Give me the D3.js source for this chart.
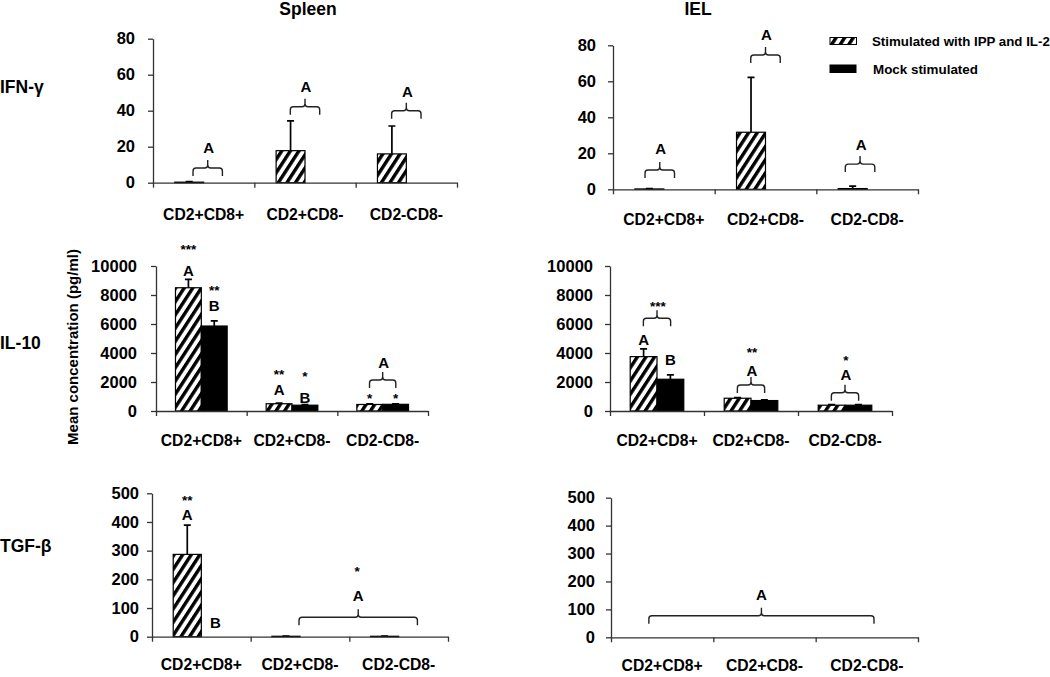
<!DOCTYPE html>
<html><head><meta charset="utf-8">
<script src="https://cdn.jsdelivr.net/npm/d3@7"></script>
<style>
body{margin:0;background:#fff}
svg{display:block}
text{font-family:"Liberation Sans",Arial,sans-serif;font-weight:bold;fill:#000}
</style>
</head><body>
<svg id="chart" width="1050" height="677"></svg>
<script>
// ---------- data ----------
const categories = ["CD2+CD8+", "CD2+CD8-", "CD2-CD8-"];
const seriesNames = ["Stimulated with IPP and IL-2", "Mock stimulated"];
const columnTitles = ["Spleen", "IEL"];
const rowLabels = ["IFN-γ", "IL-10", "TGF-β"];
const yTitle = "Mean concentration (pg/ml)";

const ticksIFN = [0, 20, 40, 60, 80];
const ticksIL10 = [0, 2000, 4000, 6000, 8000, 10000];
const ticksTGF = [0, 100, 200, 300, 400, 500];

// Spleen IFN-γ
const spleenIFNStim = [0.3, 17.8, 16.0];
const spleenIFNStimSD = [0.3, 16.6, 15.5];
const spleenIFNMock = [0, 0, 0];
const spleenIFNMockSD = [0, 0, 0];
// IEL IFN-γ
const ielIFNStim = [0.2, 31.7, 0.4];
const ielIFNStimSD = [0.2, 30.5, 1.4];
const ielIFNMock = [0, 0, 0];
const ielIFNMockSD = [0, 0, 0];
// Spleen IL-10
const spleenIL10Stim = [8500, 500, 450];
const spleenIL10StimSD = [580, 40, 40];
const spleenIL10Mock = [5860, 400, 460];
const spleenIL10MockSD = [350, 40, 40];
// IEL IL-10
const ielIL10Stim = [3750, 880, 400];
const ielIL10StimSD = [530, 50, 40];
const ielIL10Mock = [2190, 720, 400];
const ielIL10MockSD = [300, 50, 40];
// Spleen TGF-β
const spleenTGFStim = [287, 1.5, 1.5];
const spleenTGFStimSD = [102, 0.5, 0.5];
const spleenTGFMock = [0, 0, 0];
const spleenTGFMockSD = [0, 0, 0];
// IEL TGF-β
const ielTGFStim = [0, 0, 0];
const ielTGFStimSD = [0, 0, 0];
const ielTGFMock = [0, 0, 0];
const ielTGFMockSD = [0, 0, 0];

// annotations (levels in data units)
const spleenIFNBrackets = [{cat: 0, at: 8.2, shift: 0.04}, {cat: 1, at: 42.2}, {cat: 2, at: 40}];
const spleenIFNNotes = [
  {cat: 0, pos: "mid", at: 19.3, text: "A", shift: 0.04},
  {cat: 1, pos: "mid", at: 53.2, text: "A"},
  {cat: 2, pos: "mid", at: 50.4, text: "A"}];
const ielIFNBrackets = [{cat: 0, at: 10.7, shift: -0.04}, {cat: 1, at: 74.6}, {cat: 2, at: 14, shift: -0.07}];
const ielIFNNotes = [
  {cat: 0, pos: "mid", at: 22.4, text: "A", shift: -0.04},
  {cat: 1, pos: "mid", at: 85.7, text: "A"},
  {cat: 2, pos: "mid", at: 24.6, text: "A", shift: -0.07}];
const spleenIL10Brackets = [{cat: 2, at: 2138}];
const spleenIL10Notes = [
  {cat: 0, pos: "stim", at: 11400, text: "***"},
  {cat: 0, pos: "stim", at: 9650, text: "A"},
  {cat: 0, pos: "mock", at: 8600, text: "**"},
  {cat: 0, pos: "mock", at: 7250, text: "B"},
  {cat: 1, pos: "stim", at: 2750, text: "**"},
  {cat: 1, pos: "stim", at: 1500, text: "A"},
  {cat: 1, pos: "mock", at: 2680, text: "*"},
  {cat: 1, pos: "mock", at: 950, text: "B"},
  {cat: 2, pos: "stim", at: 1103, text: "*"},
  {cat: 2, pos: "mock", at: 1103, text: "*"},
  {cat: 2, pos: "mid", at: 3310, text: "A"}];
const ielIL10Brackets = [{cat: 0, at: 6393}, {cat: 1, at: 1793}, {cat: 2, at: 1262}];
const ielIL10Notes = [
  {cat: 0, pos: "stim", at: 4945, text: "A"},
  {cat: 0, pos: "mock", at: 3517, text: "B"},
  {cat: 0, pos: "mid", at: 7500, text: "***"},
  {cat: 1, pos: "mid", at: 2780, text: "A"},
  {cat: 1, pos: "mid", at: 4300, text: "**"},
  {cat: 2, pos: "mid", at: 2500, text: "A"},
  {cat: 2, pos: "mid", at: 3750, text: "*"}];
const spleenTGFBrackets = [{span: [1.49, 2.69], at: 67.6}];
const spleenTGFNotes = [
  {cat: 0, pos: "stim", at: 490, text: "**"},
  {cat: 0, pos: "stim", at: 426, text: "A"},
  {cat: 0, pos: "mock", at: 49, text: "B"},
  {u: 2.09, at: 145, text: "A"},
  {u: 2.08, at: 242, text: "*"}];
const ielTGFBrackets = [{span: [0.37, 2.57], at: 77}];
const ielTGFNotes = [{u: 1.47, at: 152, text: "A"}];

// ---------- layout ----------
const svg = d3.select("#chart");
const defs = svg.append("defs");
const pat = defs.append("pattern").attr("id", "hatch")
  .attr("patternUnits", "userSpaceOnUse").attr("width", 7.2).attr("height", 7.2)
  .attr("patternTransform", "rotate(33)");
pat.append("rect").attr("width", 7.2).attr("height", 7.2).attr("fill", "#fff");
pat.append("rect").attr("x", 0).attr("width", 3.4).attr("height", 7.2).attr("fill", "#000");

const axisColor = "#333";
const FONT = '"Liberation Sans",Arial,sans-serif';

const panels = [
  {stim: spleenIFNStim, stimSD: spleenIFNStimSD, mock: spleenIFNMock, mockSD: spleenIFNMockSD,
   ticks: ticksIFN, brackets: spleenIFNBrackets, notes: spleenIFNNotes,
   left: 153, right: 457, top: 38.7, bottom: 182.7, labelPad: 26.5, tickPad: 13},
  {stim: ielIFNStim, stimSD: ielIFNStimSD, mock: ielIFNMock, mockSD: ielIFNMockSD,
   ticks: ticksIFN, brackets: ielIFNBrackets, notes: ielIFNNotes,
   left: 613, right: 918, top: 45.3, bottom: 189.3, labelPad: 25, tickPad: 12},
  {stim: spleenIL10Stim, stimSD: spleenIL10StimSD, mock: spleenIL10Mock, mockSD: spleenIL10MockSD,
   ticks: ticksIL10, brackets: spleenIL10Brackets, notes: spleenIL10Notes,
   left: 156, right: 428, top: 266, bottom: 411, labelPad: 24, tickPad: 14},
  {stim: ielIL10Stim, stimSD: ielIL10StimSD, mock: ielIL10Mock, mockSD: ielIL10MockSD,
   ticks: ticksIL10, brackets: ielIL10Brackets, notes: ielIL10Notes,
   left: 610, right: 892, top: 266, bottom: 411, labelPad: 24, tickPad: 12},
  {stim: spleenTGFStim, stimSD: spleenTGFStimSD, mock: spleenTGFMock, mockSD: spleenTGFMockSD,
   ticks: ticksTGF, brackets: spleenTGFBrackets, notes: spleenTGFNotes,
   left: 152, right: 448, top: 493.3, bottom: 636.7, labelPad: 22.5, tickPad: 8},
  {stim: ielTGFStim, stimSD: ielTGFStimSD, mock: ielTGFMock, mockSD: ielTGFMockSD,
   ticks: ticksTGF, brackets: ielTGFBrackets, notes: ielTGFNotes,
   left: 611, right: 918, top: 497.7, bottom: 637.3, labelPad: 22.5, tickPad: 11}
];

function bracketPath(x1, x2, y) {
  const xm = (x1 + x2) / 2, r = 3, tip = 8, drop = 8;
  return `M${x1},${y + drop} L${x1},${y + r} Q${x1},${y} ${x1 + r},${y} L${xm - r},${y} Q${xm},${y} ${xm},${y - r} L${xm},${y - tip}` +
    ` M${xm},${y - r} Q${xm},${y} ${xm + r},${y} L${x2 - r},${y} Q${x2},${y} ${x2},${y + r} L${x2},${y + drop}`;
}

panels.forEach(p => {
  const g = svg.append("g");
  const x = d3.scaleBand().domain(categories).range([p.left, p.right]).padding(0);
  const u = d3.scaleLinear().domain([0, 3]).range([p.left, p.right]);
  const y = d3.scaleLinear().domain([0, d3.max(p.ticks)]).range([p.bottom, p.top]);
  const bw = x.bandwidth() * 0.285;
  const cx = c => x(c) + x.bandwidth() / 2;

  // bars
  const rows = categories.map((c, i) => ({c, i}));
  g.selectAll(".stim").data(rows).join("rect")
    .attr("x", d => cx(d.c) - bw).attr("width", bw)
    .attr("y", d => y(p.stim[d.i])).attr("height", d => y(0) - y(p.stim[d.i]))
    .attr("fill", "url(#hatch)").attr("stroke", d => p.stim[d.i] > 0 ? "#000" : "none").attr("stroke-width", 1.2);
  g.selectAll(".mock").data(rows).join("rect")
    .attr("x", d => cx(d.c)).attr("width", bw)
    .attr("y", d => y(p.mock[d.i])).attr("height", d => y(0) - y(p.mock[d.i]))
    .attr("fill", "#000").attr("stroke", d => p.mock[d.i] > 0 ? "#000" : "none").attr("stroke-width", 1.2);

  // error bars
  const errs = [];
  rows.forEach(d => {
    if (p.stimSD[d.i] > 0) errs.push({xc: cx(d.c) - bw / 2, v: p.stim[d.i], sd: p.stimSD[d.i]});
    if (p.mockSD[d.i] > 0) errs.push({xc: cx(d.c) + bw / 2, v: p.mock[d.i], sd: p.mockSD[d.i]});
  });
  g.selectAll(".err").data(errs).join("path")
    .attr("d", e => `M${e.xc},${y(e.v)} L${e.xc},${y(e.v + e.sd)} M${e.xc - 3.5},${y(e.v + e.sd)} L${e.xc + 3.5},${y(e.v + e.sd)}`)
    .attr("stroke", "#000").attr("stroke-width", 1.7).attr("fill", "none");

  // y axis
  const ya = g.append("g").attr("transform", `translate(${p.left},0)`)
    .call(d3.axisLeft(y).tickValues(p.ticks).tickSize(5).tickSizeOuter(0).tickPadding(p.tickPad).tickFormat(d3.format("d")));
  ya.selectAll("path,line").attr("stroke", axisColor).attr("stroke-width", 1.3);
  ya.selectAll("text").attr("font-size", 16.5).attr("font-family", FONT).attr("font-weight", "bold").attr("fill", "#000");

  // x axis (boundary ticks)
  const xa = g.append("g").attr("transform", `translate(0,${p.bottom})`)
    .call(d3.axisBottom(u).tickValues([0, 1, 2, 3]).tickSize(5).tickSizeOuter(0).tickFormat(""));
  xa.selectAll("path,line").attr("stroke", axisColor).attr("stroke-width", 1.3);

  // category labels
  const xl = g.append("g").attr("transform", `translate(0,${p.bottom})`)
    .call(d3.axisBottom(x).tickSize(0).tickPadding(p.labelPad));
  xl.select(".domain").remove();
  xl.selectAll("text").attr("font-size", 15.7).attr("font-family", FONT).attr("font-weight", "bold").attr("fill", "#000");

  // brackets
  g.selectAll(".br").data(p.brackets).join("path")
    .attr("d", b => {
      const s = b.span ? b.span : [b.cat + 0.5 - 0.145 + (b.shift || 0), b.cat + 0.5 + 0.145 + (b.shift || 0)];
      return bracketPath(u(s[0]), u(s[1]), y(b.at));
    })
    .attr("fill", "none").attr("stroke", "#222").attr("stroke-width", 1.4);

  // letters / stars
  g.selectAll(".note").data(p.notes).join("text")
    .attr("x", n => {
      if (n.u !== undefined) return u(n.u);
      const c = cx(categories[n.cat]);
      return n.pos === "stim" ? c - bw / 2 : n.pos === "mock" ? c + bw / 2 : u(n.cat + 0.5 + (n.shift || 0)) + 1;
    })
    .attr("y", n => y(n.at))
    .attr("dy", n => n.text.startsWith("*") ? "0.62em" : "0.36em")
    .attr("text-anchor", "middle")
    .attr("font-size", n => n.text.startsWith("*") ? 13.5 : 15)
    .text(n => n.text);
});

// column titles
svg.selectAll(".ct").data(columnTitles).join("text")
  .attr("x", (d, i) => [308, 698][i]).attr("y", 15).attr("text-anchor", "middle")
  .attr("font-size", 17.5).text(d => d);

// row labels
svg.selectAll(".rl").data(rowLabels).join("text")
  .attr("x", 0).attr("y", (d, i) => [87, 343, 546][i]).attr("dy", "0.36em")
  .attr("font-size", 17.5).text(d => d);

// y title
svg.append("text").attr("transform", "translate(73,347) rotate(-90)")
  .attr("text-anchor", "middle").attr("dy", "0.36em").attr("font-size", 15).text(yTitle);

// legend
const lg = svg.append("g");
lg.append("rect").attr("x", 830).attr("y", 37.5).attr("width", 26.5).attr("height", 7)
  .attr("fill", "url(#hatch)").attr("stroke", "#000").attr("stroke-width", 1);
lg.append("rect").attr("x", 829.5).attr("y", 64.5).attr("width", 27).attr("height", 8.5).attr("fill", "#000");
lg.append("text").attr("x", 872).attr("y", 41.5).attr("dy", "0.36em").attr("font-size", 13.3).text(seriesNames[0]);
lg.append("text").attr("x", 873).attr("y", 69.5).attr("dy", "0.36em").attr("font-size", 13.4).text(seriesNames[1]);
</script>
</body></html>
